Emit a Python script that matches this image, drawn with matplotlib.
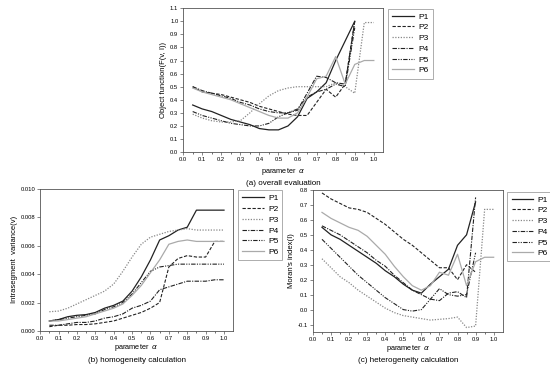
import numpy as np
import matplotlib.pyplot as plt

alpha = [0.05, 0.1, 0.15, 0.2, 0.25, 0.3, 0.35, 0.4, 0.45, 0.5,
         0.55, 0.6, 0.65, 0.7, 0.75, 0.8, 0.85, 0.9, 0.95, 1.0]
names = ['P1', 'P2', 'P3', 'P4', 'P5', 'P6']

# (a) overall evaluation
obj_p1 = [0.36, 0.33, 0.31, 0.28, 0.25, 0.23, 0.21, 0.18, 0.17, 0.17, 0.20, 0.27, 0.41, 0.46, 0.53, 0.70, 0.85, 1.0]
obj_p2 = [0.50, 0.46, 0.45, 0.44, 0.42, 0.40, 0.38, 0.35, 0.33, 0.31, 0.29, 0.28, 0.28, 0.38, 0.48, 0.42, 0.52, 1.0]
obj_p3 = [0.29, 0.26, 0.24, 0.23, 0.23, 0.24, 0.30, 0.37, 0.43, 0.47, 0.49, 0.50, 0.50, 0.50, 0.50, 0.53, 0.50, 0.45, 0.99, 0.99]
obj_p4 = [0.50, 0.47, 0.45, 0.43, 0.41, 0.38, 0.36, 0.33, 0.31, 0.30, 0.30, 0.32, 0.45, 0.58, 0.57, 0.53, 0.52, 1.0]
obj_p5 = [0.31, 0.28, 0.26, 0.24, 0.22, 0.21, 0.20, 0.20, 0.22, 0.27, 0.30, 0.33, 0.42, 0.46, 0.48, 0.52, 0.50, 0.95]
obj_p6 = [0.49, 0.46, 0.44, 0.42, 0.40, 0.37, 0.34, 0.31, 0.28, 0.26, 0.26, 0.30, 0.42, 0.56, 0.58, 0.73, 0.52, 0.67, 0.70, 0.70]

# (b) homogeneity calculation
var_p1 = [0.0007, 0.0008, 0.0010, 0.0011, 0.00115, 0.0013, 0.0016, 0.0018, 0.0021, 0.0028,
          0.0038, 0.0050, 0.0064, 0.0067, 0.0071, 0.0073, 0.0085, 0.0085, 0.0085, 0.0085]
var_p2 = [0.0003, 0.0004, 0.0004, 0.00045, 0.00045, 0.0005, 0.0006, 0.0007, 0.0009, 0.0011,
          0.0013, 0.0016, 0.0020, 0.0045, 0.0051, 0.0053, 0.0052, 0.0052, 0.0063, 0.0063]
var_p3 = [0.00135, 0.0014, 0.0016, 0.0019, 0.0022, 0.0025, 0.0028, 0.0033, 0.0042, 0.0052,
          0.0061, 0.0066, 0.0068, 0.0070, 0.0071, 0.0072, 0.0071, 0.0071, 0.0071, 0.0071]
var_p4 = [0.0004, 0.0004, 0.0005, 0.0006, 0.0006, 0.0007, 0.0009, 0.0010, 0.0012, 0.0016,
          0.0018, 0.0021, 0.0029, 0.0031, 0.0033, 0.0035, 0.0035, 0.0035, 0.0036, 0.0036]
var_p5 = [0.0007, 0.0008, 0.0009, 0.0010, 0.0011, 0.0012, 0.0015, 0.0017, 0.0020, 0.0026,
          0.0034, 0.0042, 0.0045, 0.0046, 0.0047, 0.0047, 0.0047, 0.0047, 0.0047, 0.0047]
var_p6 = [0.0007, 0.0007, 0.0008, 0.0009, 0.0010, 0.0012, 0.0014, 0.0016, 0.0019, 0.0025,
          0.0032, 0.0041, 0.0050, 0.0061, 0.0063, 0.0064, 0.0063, 0.0063, 0.0063, 0.0063]

# (c) heterogeneity calculation
moran_p1 = [0.55, 0.50, 0.47, 0.43, 0.39, 0.35, 0.31, 0.26, 0.22, 0.17, 0.13, 0.11, 0.17, 0.22, 0.27, 0.43, 0.50, 0.72]
moran_p2 = [0.78, 0.74, 0.71, 0.68, 0.67, 0.65, 0.61, 0.57, 0.52, 0.47, 0.43, 0.38, 0.33, 0.28, 0.28, 0.20, 0.30, 0.25]
moran_p3 = [0.34, 0.28, 0.22, 0.18, 0.13, 0.09, 0.05, 0.01, -0.02, -0.04, -0.05, -0.06, -0.07, -0.065, -0.06, -0.05, -0.12, -0.11, 0.67, 0.67]
moran_p4 = [0.56, 0.53, 0.50, 0.46, 0.42, 0.38, 0.33, 0.29, 0.23, 0.18, 0.13, 0.10, 0.07, 0.06, 0.11, 0.12, 0.08, 0.75]
moran_p5 = [0.47, 0.41, 0.35, 0.29, 0.23, 0.18, 0.13, 0.08, 0.04, 0.00, -0.01, 0.00, 0.07, 0.14, 0.10, 0.09, 0.10, 0.38]
moran_p6 = [0.65, 0.61, 0.58, 0.55, 0.53, 0.49, 0.43, 0.37, 0.29, 0.22, 0.16, 0.13, 0.16, 0.25, 0.23, 0.37, 0.16, 0.32, 0.35, 0.35]

styles = [dict(color='#222222', ls='-', lw=0.9),
          dict(color='#222222', ls=(0, (3, 1.5)), lw=0.8),
          dict(color='#888888', ls=(0, (1, 1.2)), lw=0.9),
          dict(color='#222222', ls=(0, (4, 1.2, 1, 1.2)), lw=0.8),
          dict(color='#222222', ls=(0, (4, 1.2, 1, 1.2, 1, 1.2)), lw=0.8),
          dict(color='#aaaaaa', ls='-', lw=0.9)]

plt.rcParams['font.family'] = 'Liberation Sans'

fig = plt.figure(figsize=(5.5, 3.71), dpi=100)


def panel(rect, series, ylim, yticks, yfmt, ylabel, title, title_y, xpad, leg_pos):
    ax = fig.add_axes(rect)
    for nm, ys, st in zip(names, series, styles):
        ax.plot(alpha[:len(ys)], ys, label=nm, **st)
    ax.set_xlim(0, 1.05)
    ax.set_xticks(np.arange(0, 1.01, 0.1))
    ax.set_xticklabels(['%.1f' % v for v in np.arange(0, 1.01, 0.1)])
    ax.set_ylim(*ylim)
    ax.set_yticks(yticks)
    ax.set_yticklabels([yfmt % v for v in yticks])
    ax.set_xticks(np.arange(0.05, 1.05, 0.1), minor=True)
    ax.tick_params(labelsize=4.2, length=2, width=0.5, pad=1.5, color='#555555')
    ax.tick_params(which='minor', length=1.2, width=0.4)
    for s in ax.spines.values():
        s.set_linewidth(0.6)
        s.set_color('#555555')
    ax.set_ylabel(ylabel, fontsize=5.5, labelpad=2)
    ax.set_xlabel('parameter  $\\alpha$', fontsize=5.3, labelpad=xpad)
    ax.text(0.5, title_y, title, transform=ax.transAxes, ha='center', va='center', fontsize=5.8)
    leg = ax.legend(loc='upper left', bbox_to_anchor=leg_pos, bbox_transform=fig.transFigure,
                    fontsize=6, frameon=True, fancybox=False, handlelength=2.6,
                    borderpad=0.5, labelspacing=0.35, handletextpad=0.5)
    leg.get_frame().set_edgecolor('#888888')
    leg.get_frame().set_linewidth(0.6)
    return ax


panel([0.333, 0.590, 0.364, 0.388],
      [obj_p1, obj_p2, obj_p3, obj_p4, obj_p5, obj_p6],
      (0, 1.1), np.arange(0, 1.11, 0.1), '%.1f',
      'Object function(F(v, I))', '(a) overall evaluation', -0.215, 3, (0.698, 0.988))

panel([0.073, 0.108, 0.351, 0.383],
      [var_p1, var_p2, var_p3, var_p4, var_p5, var_p6],
      (0, 0.010), np.arange(0, 0.0101, 0.002), '%.3f',
      'Intrasegment  variance(v)', '(b) homogeneity calculation', -0.205, 1, (0.425, 0.498))

panel([0.569, 0.105, 0.345, 0.383],
      [moran_p1, moran_p2, moran_p3, moran_p4, moran_p5, moran_p6],
      (-0.15, 0.8), np.arange(-0.1, 0.81, 0.1), '%.1f',
      "Moran's index(I)", '(c) heterogeneity calculation', -0.2, 1, (0.915, 0.495))

fig.savefig('out.png', dpi=100)
